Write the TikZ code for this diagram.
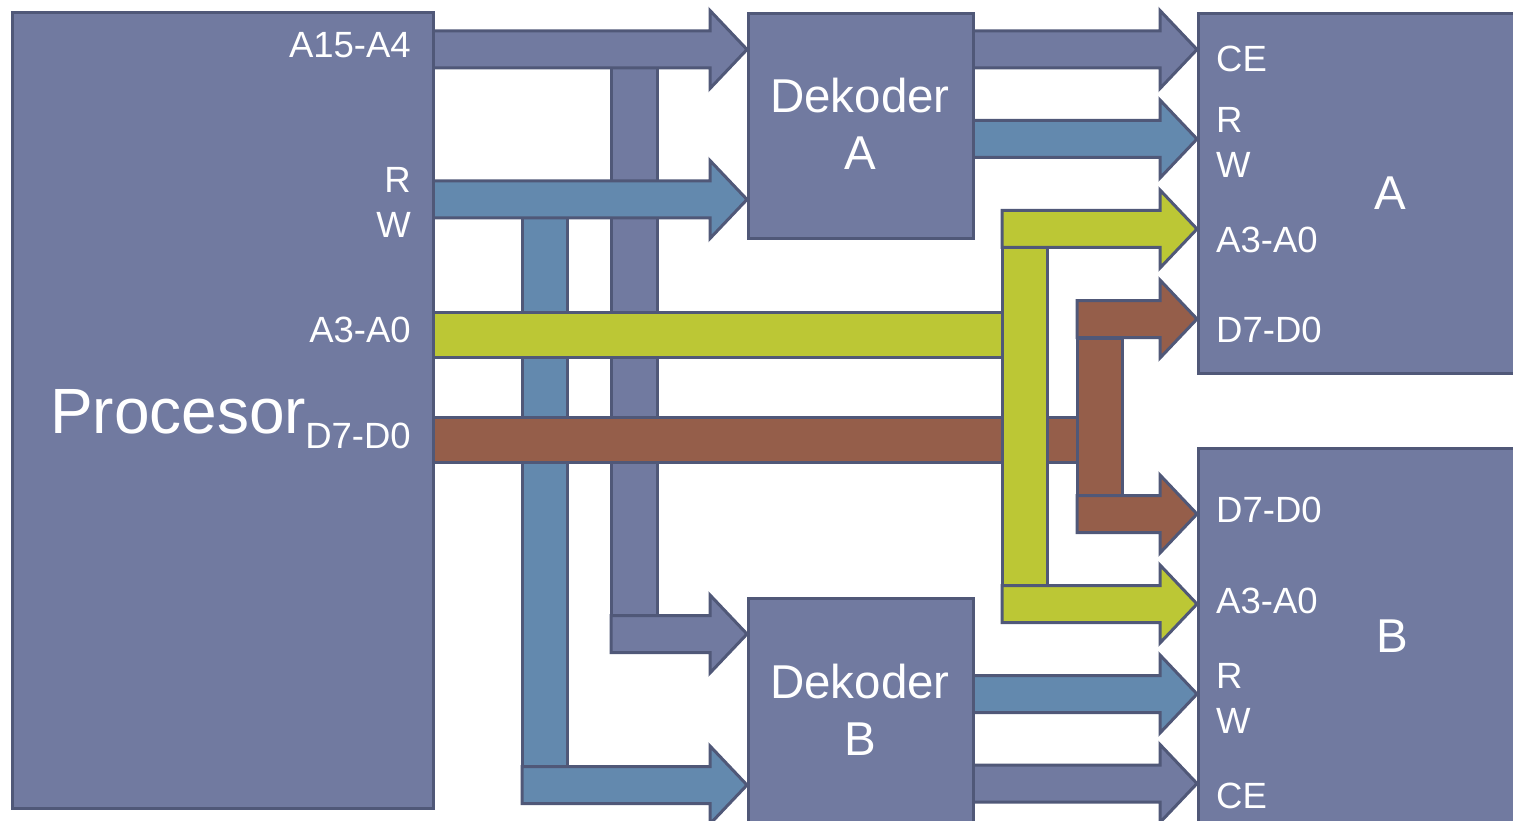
\documentclass[tikz,border=0pt]{standalone}
\usepackage{fontspec}
\setmainfont{Liberation Sans}
\definecolor{boxfill}{RGB}{113,122,160}
\definecolor{edgec}{RGB}{80,88,120}
\definecolor{busblue}{RGB}{99,137,174}
\definecolor{busgreen}{RGB}{188,199,53}
\definecolor{busbrown}{RGB}{149,94,74}
\tikzset{
  part/.style={draw=edgec, line width=3pt, line join=miter},
  box/.style={part, fill=boxfill, rectangle, inner sep=0pt, anchor=north west},
  lbl/.style={text=white, inner sep=0pt, font=\fontsize{36.5}{40}\selectfont},
  biglbl/.style={text=white, inner sep=0pt, font=\fontsize{47.5}{50}\selectfont},
}
% #1 colour, #2 start x, #3 tip x, #4 centre y
\newcommand\busarrow[4]{%
  \filldraw[part, fill=#1] (#2,{#4-18.5}) -- ({#3-37},{#4-18.5}) -- ({#3-37},{#4-39})
    -- (#3,#4) -- ({#3-37},{#4+39}) -- ({#3-37},{#4+18.5}) -- (#2,{#4+18.5}) -- cycle;}
\begin{document}
\begin{tikzpicture}[x=1pt,y=-1pt]
\useasboundingbox (0,0) rectangle (1513,821);
\clip (0,0) rectangle (1513,821);
% vertical branches from processor buses
\filldraw[part, fill=busblue] (522,218) rectangle (567,767);
\filldraw[part, fill=boxfill] (611,68) rectangle (657,615);
% processor buses
\busarrow{boxfill}{432}{747}{49.5}
\busarrow{busblue}{432}{747}{199.5}
\filldraw[part, fill=busgreen] (432,312) rectangle (1002,357);
\filldraw[part, fill=busbrown] (432,417) rectangle (1077,462);
% branches into decoder B
\busarrow{boxfill}{611}{747}{634}
\busarrow{busblue}{522}{747}{785}
% address bus A3-A0 to memories
\filldraw[part, fill=busgreen] (1002,248) rectangle (1047,585);
\busarrow{busgreen}{1002}{1197}{229}
\busarrow{busgreen}{1002}{1197}{604}
% data bus to memories
\filldraw[part, fill=busbrown] (1077,338) rectangle (1122,495);
\busarrow{busbrown}{1077}{1197}{319}
\busarrow{busbrown}{1077}{1197}{514}
% decoder outputs
\busarrow{boxfill}{972}{1197}{49.5}
\busarrow{busblue}{972}{1197}{139}
\busarrow{busblue}{972}{1197}{694}
\busarrow{boxfill}{972}{1197}{783.5}
% boxes
\node[box, minimum width=421pt, minimum height=796pt] (proc) at (11,11) {};
\node[box, minimum width=225pt, minimum height=225pt] (decA) at (747,12) {};
\node[box, minimum width=225pt, minimum height=250pt] (decB) at (747,597) {};
\node[box, minimum width=340pt, minimum height=360pt] (memA) at (1197,12) {};
\node[box, minimum width=340pt, minimum height=400pt] (memB) at (1197,447) {};
% processor labels
\node[lbl, anchor=base east] (pa15) at (411,58) {A15-A4};
\node[lbl, anchor=base east] (pr) at (411,193) {R};
\node[lbl, anchor=base east] (pw) at (411,237) {W};
\node[lbl, anchor=base east] (pa3) at (411,342) {A3-A0};
\node[lbl, anchor=base east] (pd7) at (411,448) {D7-D0};
\node[text=white, inner sep=0pt, anchor=base west, font=\fontsize{64}{70}\selectfont] (pname) at (50,433) {Procesor};
% decoder labels
\node[biglbl, anchor=base] (decAt) at (860,113) {Dekoder};
\node[biglbl, anchor=base] (decAn) at (860,170) {A};
\node[biglbl, anchor=base] (decBt) at (860,698) {Dekoder};
\node[biglbl, anchor=base] (decBn) at (860,755) {B};
% memory A labels
\node[lbl, anchor=base west] (mace) at (1216,72) {CE};
\node[lbl, anchor=base west] (mar) at (1216,133) {R};
\node[lbl, anchor=base west] (maw) at (1216,178) {W};
\node[lbl, anchor=base west] (maa) at (1216,253) {A3-A0};
\node[lbl, anchor=base west] (mad) at (1216,342) {D7-D0};
\node[biglbl, anchor=base] (man) at (1390,210) {A};
% memory B labels
\node[lbl, anchor=base west] (mbd) at (1216,522) {D7-D0};
\node[lbl, anchor=base west] (mba) at (1216,613) {A3-A0};
\node[lbl, anchor=base west] (mbr) at (1216,688) {R};
\node[lbl, anchor=base west] (mbw) at (1216,733) {W};
\node[lbl, anchor=base west] (mbce) at (1216,808) {CE};
\node[biglbl, anchor=base] (mbn) at (1392,652) {B};
\end{tikzpicture}
\end{document}
